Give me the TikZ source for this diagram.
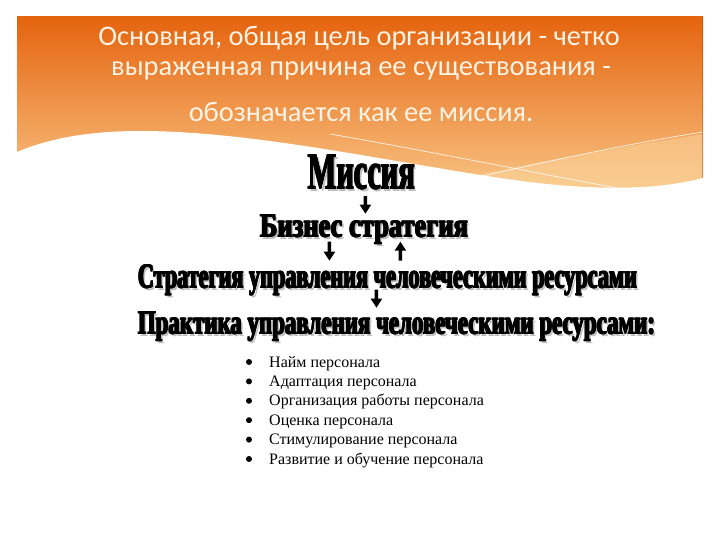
\documentclass[tikz,border=0pt]{standalone}
\usepackage{fontspec}
\usepackage{graphicx}
\setmainfont{Liberation Serif}
\newfontfamily\calfont{Carlito}
\newfontfamily\heavyfont{Liberation Serif}
\usetikzlibrary{arrows.meta,calc}
\definecolor{hdrtop}{HTML}{E5640F}
\definecolor{hdrmid}{HTML}{F08B42}
\definecolor{hdrbot}{HTML}{F9C98A}
\definecolor{paleband}{HTML}{FBD7A0}
\definecolor{titlecol}{HTML}{FEF3E4}
\tikzset{
  hdtext/.style={anchor=base west,inner sep=0,outer sep=0,text=black},
  hdshadow/.style={anchor=base west,inner sep=0,outer sep=0,text=black!25},
  arr/.style={line width=3.5pt,-{Triangle[length=9pt,width=11pt]}},
  titletext/.style={font=\calfont\fontsize{28.4}{32}\selectfont,text=titlecol,anchor=base,inner sep=0},
  item/.style={font=\fontsize{16}{19}\selectfont,anchor=base west,inner sep=0},
  bul/.style={fill=black}
}
\newcommand\hdline[6]{%
  \node[hdshadow] at (#2+2.2,#3+2.2) {\resizebox{#4pt}{#5pt}{\heavyfont\bfseries #6}};
  \foreach \dx/\dy in {0.6/0,1.2/0,0.6/0.6,0/0.6,1.2/0.6}{
    \node[hdtext] at (#2+\dx-0.6,#3+\dy-0.3) {\resizebox{#4pt}{#5pt}{\heavyfont\bfseries #6}};}
  \node[hdtext] (#1) at (#2-0.6,#3-0.3) {\resizebox{#4pt}{#5pt}{\heavyfont\bfseries #6}};}
\begin{document}
\begin{tikzpicture}[x=1pt,y=-1pt]
\useasboundingbox[fill=white] (0,0) rectangle (720,540);
% header
\fill[top color=hdrtop,middle color=hdrmid,bottom color=hdrbot] (17,17) rectangle (703,200);
\fill[paleband,opacity=0.5] (400,200) -- (400,190) .. controls (490,172) and (610,148) .. (703,134) -- (703,200) -- cycle;
\draw[white,line width=0.7pt,opacity=0.85] (330,134) .. controls (450,155) and (560,178) .. (650,194);
\draw[white,line width=0.7pt,opacity=0.85] (430,188) .. controls (530,165) and (620,145) .. (703,132);
\fill[white] (17,152) .. controls (50,138) and (90,131) .. (140,131) .. controls (250,131) and (380,160) .. (500,178) .. controls (580,190) and (650,192) .. (703,178) -- (720,178) -- (720,205) -- (0,205) -- (0,152) -- cycle;
\draw[hdrtop!80!black,line width=0.6pt,opacity=0.5] (702.5,17) -- (702.5,178);
% title
\node[titletext] (t1) at (359,46) {Основная, общая цель организации - четко};
\node[titletext] (t2) at (361,76) {выраженная причина ее существования -};
\node[titletext] (t3) at (361,122) {обозначается как ее миссия.};
% headings
\hdline{m}{308}{189}{107}{34}{Миссия}
\hdline{b}{260}{237}{208}{22}{Бизнес стратегия}
\hdline{s}{138}{288}{499}{23}{Стратегия управления человеческими ресурсами}
\hdline{p}{138}{334}{517}{22}{Практика управления человеческими ресурсами:}
% arrows
\draw[arr] ($(m.south)+(4.5,7)$) -- ($(b.north)+(2,-1)$);
\draw[arr] ($(b.base)+(-34,5)$) -- ($(s.north)+(-57.5,-4)$);
\draw[arr] ($(s.north)+(13.5,-4)$) -- ($(b.base)+(37,5)$);
\draw[arr] ($(s.base)+(-10.5,2)$) -- ($(p.north)+(-19.5,-4)$);
% list
\foreach \t [count=\i] in {Найм персонала,Адаптация персонала,Организация работы персонала,Оценка персонала,Стимулирование персонала,Развитие и обучение персонала}{
  \node[item] (i\i) at (269,{367+(\i-1)*19.4}) {\t};
  \fill[bul] (249,{362+(\i-1)*19.4}) circle (3);
}
\end{tikzpicture}
\end{document}
